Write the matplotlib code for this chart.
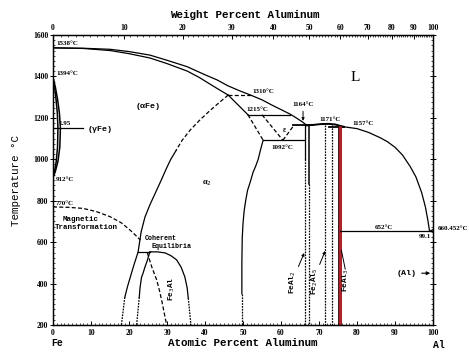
import numpy as np
import matplotlib
matplotlib.use("Agg")
import matplotlib.pyplot as plt

# ---------------- data (atomic % Al, temperature in °C) ----------------
at_ticks = list(range(0, 101, 10))
temp_ticks = list(range(200, 1601, 200))
wt_ticks = list(range(0, 101, 10))

liq_left_x = [0, 8, 15, 20, 25.5, 30, 35.3, 40, 43.2, 46, 49.2, 52, 55, 58, 60, 62.4, 64, 65.5, 66.8]
liq_left_t = [1538, 1536, 1531, 1520, 1503, 1478, 1447, 1408, 1383, 1355, 1330, 1310, 1287,
              1258, 1240, 1218, 1200, 1182, 1164]
liq_mid_x = [66.8, 68.5, 70.5, 72.5, 74.3, 75.4, 76.5]
liq_mid_t = [1164, 1166, 1170, 1171, 1168, 1162, 1157]
liq_right_x = [76.5, 80, 83, 86, 88, 90, 92, 94, 95.5, 97, 98, 98.7, 99.1]
liq_right_t = [1157, 1148, 1130, 1105, 1085, 1058, 1020, 965, 915, 840, 770, 700, 652]
liq_al_x = [99.1, 100]
liq_al_t = [652, 660.452]

sol_x = [0, 8, 15, 20, 25.5, 30, 35.3, 38.5, 41.3, 44, 46.1]
sol_t = [1538, 1535, 1525, 1510, 1489, 1462, 1426, 1395, 1363, 1333, 1310]

gam_out_x = [0, 0.6, 1.2, 1.7, 1.95, 1.8, 1.3, 0.6, 0]
gam_out_t = [1394, 1350, 1290, 1220, 1150, 1060, 990, 940, 912]
gam_in_x = [0, 0.4, 0.8, 1.15, 1.3, 1.2, 0.85, 0.4, 0]
gam_in_t = [1394, 1350, 1290, 1220, 1150, 1060, 990, 940, 912]

mag_x = [0, 4, 7.9, 11.5, 15, 18, 20.3, 21.8, 23.0]
mag_t = [770, 768, 763, 747, 723, 693, 658, 632, 610]

ord_dash_x = [46.1, 43.5, 41, 38.5, 36.1, 34, 32.3]
ord_dash_t = [1310, 1270, 1230, 1187, 1141, 1092, 1040]
ord_sol_x = [32.3, 31, 30, 28.5, 27, 25.5, 24.2, 23.2, 22.4, 21.3, 20.5, 19.6, 18.9]
ord_sol_t = [1040, 1000, 962, 900, 840, 780, 721, 650, 553, 490, 441, 385, 334]
ord_dot_x = [18.9, 18.0]
ord_dot_t = [334, 200]

coh_sol_x = [25.5, 24.7, 24.2, 23.7, 23.3, 22.9, 22.7]
coh_sol_t = [553, 505, 480, 450, 431, 380, 334]
coh_dot_x = [22.7, 22.0]
coh_dot_t = [334, 200]

dome_x = [25.5, 27.5, 29.5, 31, 32.5, 33.7, 34.7, 35.3, 35.6]
dome_t = [553, 553, 548, 535, 515, 480, 432, 380, 330]
dome_dot_x = [35.6, 36.3]
dome_dot_t = [330, 200]

coh_dash_x = [24.8, 26, 27.3, 28.1, 28.7, 29.3, 29.9]
coh_dash_t = [550, 480, 417, 360, 310, 255, 200]

b2_x = [55.3, 54.6, 54, 53.3, 52.7, 51.9, 51.2, 50.7, 50.3, 50, 49.8, 49.7, 49.7]
b2_t = [1092, 1045, 1000, 965, 940, 890, 850, 800, 750, 690, 620, 500, 350]
b2_dot_x = [49.7, 49.7]
b2_dot_t = [350, 200]

feal2_left = 66.3
feal2_right = 67.3
fe2al5_left = 71.7
fe2al5_right = 73.4
feal3 = 75.4

# ---------------- helpers ----------------
M_AL, M_FE = 26.9815, 55.845


def wt_to_at(w):
    w = np.asarray(w, float)
    a = w / M_AL
    f = (100 - w) / M_FE
    return 100 * a / (a + f)


fig = plt.figure(figsize=(4.69, 3.54), dpi=100)
ax = fig.add_axes([53 / 469, 1 - 325 / 354, 380 / 469, 290 / 354])
ax.set_xlim(0, 100)
ax.set_ylim(200, 1600)

K = 'black'
LW = 0.9
dash = (0, (3.2, 1.8))
dot = (0, (1.4, 0.9))
mono = 'Liberation Mono'
serif = 'Liberation Serif'

# liquidus / solidus
ax.plot(liq_left_x, liq_left_t, color=K, lw=LW)
ax.plot(liq_mid_x, liq_mid_t, color=K, lw=1.4)
ax.plot(liq_right_x, liq_right_t, color=K, lw=LW)
ax.plot(liq_al_x, liq_al_t, color=K, lw=LW)
ax.plot(sol_x, sol_t, color=K, lw=LW)

# gamma loop
ax.plot(gam_out_x, gam_out_t, color=K, lw=1.1)
ax.plot(gam_in_x, gam_in_t, color=K, lw=1.1)
ax.plot([0, 7.9], [1150, 1150], color=K, lw=LW)

# magnetic transformation
ax.plot(mag_x, mag_t, color=K, lw=LW, ls=dash)

# order-disorder lines
ax.plot(ord_dash_x, ord_dash_t, color=K, lw=LW, ls=dash)
ax.plot(ord_sol_x, ord_sol_t, color=K, lw=LW)
ax.plot(ord_dot_x, ord_dot_t, color=K, lw=LW, ls=dot)
ax.plot(coh_sol_x, coh_sol_t, color=K, lw=LW)
ax.plot(coh_dot_x, coh_dot_t, color=K, lw=LW, ls=dot)
ax.plot(dome_x, dome_t, color=K, lw=LW)
ax.plot(dome_dot_x, dome_dot_t, color=K, lw=LW, ls=dot)
ax.plot(coh_dash_x, coh_dash_t, color=K, lw=LW, ls=dash)
ax.plot([22.4, 25.5], [553, 553], color=K, lw=LW)

# B2 boundary
ax.plot(b2_x, b2_t, color=K, lw=LW)
ax.plot(b2_dot_x, b2_dot_t, color=K, lw=LW, ls=dot)

# high temperature invariants around epsilon
ax.plot([46.1, 52.0], [1310, 1310], color=K, lw=LW, ls=dash)
ax.plot([46.1, 51.3], [1310, 1215], color=K, lw=LW)
ax.plot([51.3, 55.3], [1215, 1092], color=K, lw=LW, ls=dash)
ax.plot([51.3, 62.4], [1215, 1215], color=K, lw=LW)
ax.plot([55.0, 60.5], [1215, 1092], color=K, lw=LW, ls=dash)
ax.plot([60.5, 63.4], [1092, 1164], color=K, lw=LW, ls=dash)
ax.plot([55.3, feal2_left], [1092, 1092], color=K, lw=LW)
ax.plot([63.2, 68.4], [1164, 1164], color=K, lw=1.3)
ax.plot([72.5, 76.5], [1157, 1157], color=K, lw=1.3)

# compounds
ax.plot([feal2_left, feal2_left], [1164, 1000], color=K, lw=LW)
ax.plot([feal2_left, feal2_left], [1000, 200], color=K, lw=LW, ls=dot)
ax.plot([feal2_right, feal2_right], [1166, 880], color=K, lw=1.1)
ax.plot([feal2_right, feal2_right], [880, 200], color=K, lw=LW, ls=dot)
ax.plot([fe2al5_left, fe2al5_left], [1165, 200], color=K, lw=LW, ls=dot)
ax.plot([fe2al5_right, fe2al5_right], [1165, 200], color=K, lw=LW, ls=dot)
ax.plot([feal3, feal3], [1162, 200], color='#3a1010', lw=2.8, solid_capstyle='butt')
ax.plot([feal3, feal3], [1162, 200], color='#b3232b', lw=2.0, solid_capstyle='butt')

# eutectic on Al side
ax.plot([feal3, 100], [652, 652], color=K, lw=LW)

# ---------------- axes styling ----------------
for s in ax.spines.values():
    s.set_linewidth(1.0)
ax.set_xticks(at_ticks)
ax.set_xticks(np.arange(0, 101, 1), minor=True)
ax.set_yticks(temp_ticks)
ax.set_yticks(np.arange(200, 1601, 25), minor=True)
ax.tick_params(axis='x', which='major', direction='in', length=3, width=0.7,
               labelsize=5.5, pad=3, top=False)
ax.tick_params(axis='x', which='minor', direction='in', length=1.5, width=0.5, top=False)
ax.tick_params(axis='y', which='major', direction='inout', length=4, width=0.7,
               labelsize=5.5, pad=1.5, right=True)
ax.tick_params(axis='y', which='minor', direction='in', length=1.5, width=0.5, right=True)
for lab in ax.get_xticklabels() + ax.get_yticklabels():
    lab.set_fontfamily(serif)
    lab.set_fontweight('bold')

top = ax.twiny()
top.set_xlim(0, 100)
top.set_xticks(wt_to_at(wt_ticks))
top.set_xticklabels([str(w) for w in wt_ticks])
top.set_xticks(wt_to_at(np.arange(0, 101, 1)), minor=True)
top.tick_params(axis='x', which='major', direction='in', length=3, width=0.7,
                labelsize=5.5, pad=2)
top.tick_params(axis='x', which='minor', direction='in', length=1.5, width=0.5)
for lab in top.get_xticklabels():
    lab.set_fontfamily(serif)
    lab.set_fontweight('bold')

# ---------------- texts ----------------
tsz = 5.0
def tlabel(x, y, s, **kw):
    d = dict(fontsize=tsz, family=serif, fontweight='bold', ha='left', va='center')
    d.update(kw)
    ax.text(x, y, s, **d)

tlabel(0.8, 1561, '1538°C')
tlabel(0.8, 1412, '1394°C')
tlabel(1.5, 1160, '1.95', va='bottom')
tlabel(0.6, 903, '912°C')
tlabel(0.6, 775, '770°C', va='bottom')
tlabel(52.4, 1325, '1310°C')
tlabel(51.0, 1238, '1215°C')
tlabel(63.0, 1265, '1164°C')
tlabel(70.2, 1190, '1171°C')
tlabel(78.7, 1175, '1157°C')
tlabel(57.6, 1058, '1092°C')
tlabel(84.7, 660, '652°C', va='bottom')
tlabel(99.6, 628, '99.1', ha='right')
ax.text(101.2, 668, '660.452°C', fontsize=tsz, family=serif, fontweight='bold',
        ha='left', va='center', clip_on=False)

ax.annotate('', xy=(65.8, 1172), xytext=(65.8, 1245),
            arrowprops=dict(arrowstyle='-|>', color=K, lw=0.7, mutation_scale=4))

msz = 5.4
ax.text(25.0, 1257, '(αFe)', fontsize=msz + 0.6, family=mono, fontweight='bold',
        ha='center', va='center')
ax.text(9.0, 1146, '(γFe)', fontsize=msz + 0.6, family=mono, fontweight='bold',
        ha='left', va='center')
ax.text(40.5, 885, 'α$_2$', fontsize=msz + 0.6, family=serif, fontweight='bold',
        ha='center', va='center')
ax.text(7.4, 711, 'Magnetic', fontsize=msz, family=mono, fontweight='bold',
        ha='center', va='center')
ax.text(8.7, 673, 'Transformation', fontsize=msz, family=mono, fontweight='bold',
        ha='center', va='center')
ax.text(24.2, 620, 'Coherent', fontsize=4.8, family=mono, fontweight='bold',
        ha='left', va='center')
ax.text(26.0, 581, 'Equilibria', fontsize=4.8, family=mono, fontweight='bold',
        ha='left', va='center')
ax.text(31.3, 372, 'Fe$_3$Al', fontsize=5.6, family=mono, fontweight='bold',
        ha='center', va='center', rotation=90)
ax.text(60.8, 1141, 'ε', fontsize=5.5, family=serif, fontweight='bold',
        ha='center', va='center')
ax.text(79.5, 1397, 'L', fontsize=11, family=serif, ha='center', va='center')

ax.text(63.2, 405, 'FeAl$_2$', fontsize=5.6, family=mono, fontweight='bold',
        ha='center', va='center', rotation=90)
ax.text(68.9, 410, 'Fe$_2$Al$_5$', fontsize=5.6, family=mono, fontweight='bold',
        ha='center', va='center', rotation=90)
ax.text(77.1, 415, 'FeAl$_3$', fontsize=5.6, family=mono, fontweight='bold',
        ha='center', va='center', rotation=90)
ax.annotate('', xy=(66.4, 560), xytext=(64.3, 470),
            arrowprops=dict(arrowstyle='-|>', color=K, lw=0.7, mutation_scale=4))
ax.annotate('', xy=(71.9, 570), xytext=(69.9, 480),
            arrowprops=dict(arrowstyle='-|>', color=K, lw=0.7, mutation_scale=4))
ax.plot([76.9, 75.9], [470, 560], color=K, lw=0.7)

ax.text(95.8, 450, '(Al)', fontsize=msz + 0.6, family=mono, fontweight='bold',
        ha='right', va='center')
ax.annotate('', xy=(100, 450), xytext=(96.3, 450),
            arrowprops=dict(arrowstyle='-|>', color=K, lw=0.8, mutation_scale=5))

# axis titles
fig.text(245 / 469, 1 - 15 / 354, 'Weight Percent Aluminum', fontsize=7.8,
         family=mono, fontweight='bold', ha='center', va='center')
fig.text(243 / 469, 1 - 343 / 354, 'Atomic Percent Aluminum', fontsize=7.8,
         family=mono, fontweight='bold', ha='center', va='center')
fig.text(16 / 469, 1 - 180 / 354, 'Temperature °C', fontsize=7.8,
         family=mono, ha='center', va='center', rotation=90)
fig.text(51 / 469, 1 - 343 / 354, 'Fe', fontsize=7, family=mono,
         fontweight='bold', ha='left', va='center')
fig.text(439 / 469, 1 - 345 / 354, 'Al', fontsize=7, family=mono,
         fontweight='bold', ha='center', va='center')

fig.savefig('out.png', dpi=100)
